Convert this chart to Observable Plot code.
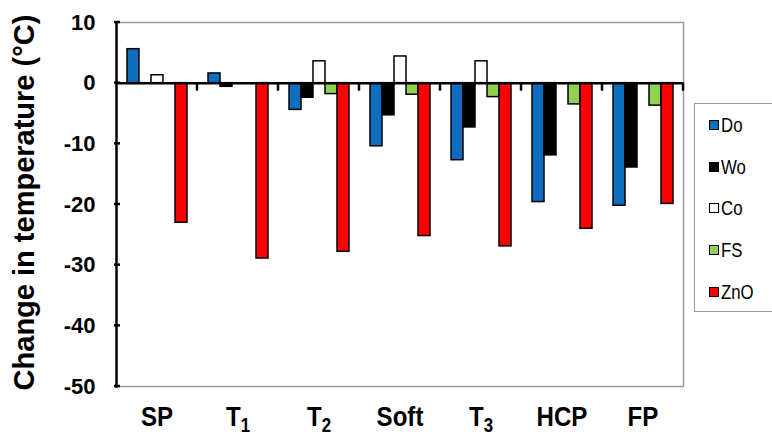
<!DOCTYPE html>
<html>
<head>
<meta charset="utf-8">
<script src="https://cdn.jsdelivr.net/npm/d3@7"></script>
<script src="https://cdn.jsdelivr.net/npm/@observablehq/plot@0.6"></script>
<style>
  html, body { margin: 0; padding: 0; background: #fff; overflow: hidden; width: 772px; height: 436px; }
  #wrap { position: relative; width: 772px; height: 436px; }
  #legend { position: absolute; left: 694px; top: 103px; width: 100px; height: 209px;
    border: 1px solid #9a9a9a; box-sizing: border-box; font-family: "Liberation Sans", Arial, sans-serif; }
  .row { height: 41.75px; display: flex; align-items: center; font-size: 21px; color: #000; }
  .row span { display: inline-block; transform: scaleX(0.8); transform-origin: left center; }
  .sw { width: 8px; height: 8px; border: 1.5px solid #000; margin-left: 14px; margin-right: 2px; }
</style>
</head>
<body>
<div id="wrap"></div>
<script>
const categories = ["SP", "T1", "T2", "Soft", "T3", "HCP", "FP"];
const series = ["Do", "Wo", "Co", "FS", "ZnO"];
const seriesColors = ["#0E6DBE", "#000000", "#FFFFFF", "#92D050", "#FF0000"];
const Do  = [5.6, 1.6, -4.4, -10.4, -12.7, -19.6, -20.2];
const Wo  = [0, -0.6, -2.4, -5.3, -7.3, -11.9, -13.9];
const Co  = [1.3, 0, 3.6, 4.4, 3.6, 0, 0];
const FS  = [0, 0, -1.8, -1.9, -2.3, -3.5, -3.7];
const ZnO = [-23.0, -28.9, -27.8, -25.2, -26.9, -24.0, -19.9];
const yTicks = [10, 0, -10, -20, -30, -40, -50];
const yTitle = "Change in temperature (°C)";

const valuesBySeries = {Do, Wo, Co, FS, ZnO};
const rows = [];
categories.forEach((c, i) => series.forEach(s => rows.push({cat: c, series: s, value: valuesBySeries[s][i]})));

const font = "'Liberation Sans', Arial, sans-serif";

const plot = Plot.plot({
  width: 772,
  height: 436,
  marginLeft: 114,
  marginRight: 88,
  marginTop: 22,
  marginBottom: 50,
  style: {fontFamily: font, background: "white", color: "black", overflow: "visible"},
  fx: {domain: categories, padding: 0, label: null},
  x: {domain: series, paddingInner: 0, paddingOuter: 0.68, axis: null},
  y: {domain: [-50, 10], label: null},
  color: {type: "ordinal", domain: series, range: seriesColors},
  marks: [
    Plot.ruleY([10], {stroke: "#9a9a9a", strokeWidth: 1.5}),
    Plot.ruleY([-50], {stroke: "#9a9a9a", strokeWidth: 1.5}),
    Plot.frame({anchor: "right", facetAnchor: "right", stroke: "#9a9a9a", strokeWidth: 1.5}),
    Plot.barY(rows, {fx: "cat", x: "series", y: "value", fill: "series", stroke: "black", strokeWidth: 1.5, inset: 0}),
    Plot.ruleY([0], {stroke: "black", strokeWidth: 2.5}),
    Plot.frame({anchor: "left", facetAnchor: "left", stroke: "black", strokeWidth: 2.5}),
    Plot.axisY({ticks: yTicks, tickFormat: d => String(d), tickSize: 0, tickPadding: 21,
      fontSize: 22, fontWeight: "bold", label: null}),
    Plot.axisFx({anchor: "bottom", tickSize: 0, tickPadding: 20, fontSize: 28, fontWeight: "bold", label: null}),
    Plot.text([yTitle], {frameAnchor: "left", facetAnchor: "left", rotate: -90, dx: -92, dy: -2,
      textAnchor: "middle", lineAnchor: "middle",
      fontSize: 29, fontWeight: "bold", fill: "black", text: d => d})
  ]
});

// inward y ticks and category boundary tick marks on the zero line
const fx = plot.scale("fx");
const y = plot.scale("y");
const svg = d3.select(plot);
const g = svg.append("g").attr("stroke", "black").attr("stroke-width", 2.5);
const x0 = fx.range[0];
yTicks.forEach(t => {
  g.append("line").attr("x1", x0).attr("x2", x0 + 6).attr("y1", y.apply(t)).attr("y2", y.apply(t));
});
categories.forEach(c => {
  const xr = fx.apply(c) + fx.bandwidth;
  g.append("line").attr("x1", xr).attr("x2", xr).attr("y1", y.apply(0)).attr("y2", y.apply(0) + 8);
});

// category labels: condensed, with subscripts for T1, T2, T3
svg.selectAll("text").each(function() {
  const t = d3.select(this);
  const label = t.text();
  if (this.childElementCount === 0 && categories.includes(label)) {
    const tr = t.attr("transform") || "";
    t.attr("transform", tr + " scale(0.86,1)");
    const m = /^T(\d)$/.exec(label);
    if (m) {
      t.text("T");
      t.append("tspan").attr("dy", "0.3em").attr("font-size", "0.7em").text(m[1]);
    }
  }
});

document.getElementById("wrap").appendChild(plot);

const legend = d3.select("#wrap").append("div").attr("id", "legend");
series.forEach((s, i) => {
  const r = legend.append("div").attr("class", "row");
  r.append("div").attr("class", "sw").style("background", seriesColors[i]);
  r.append("span").text(s);
});
</script>
</body>
</html>
